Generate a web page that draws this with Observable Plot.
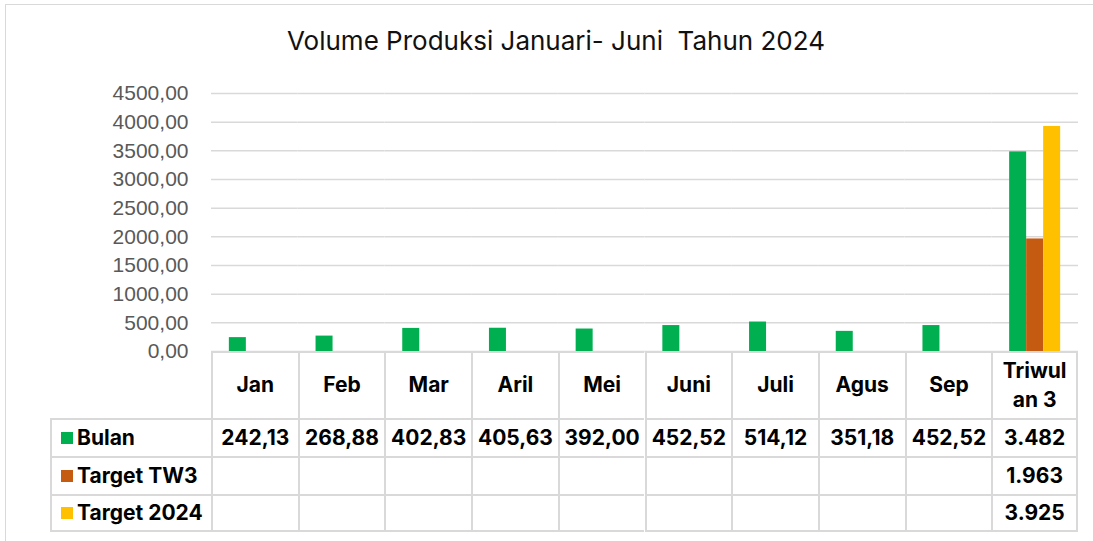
<!DOCTYPE html>
<html>
<head>
<meta charset="utf-8">
<script src="https://cdn.jsdelivr.net/npm/d3@7"></script>
<script src="https://cdn.jsdelivr.net/npm/@observablehq/plot@0.6"></script>
<style>
  body { margin: 0; background: #fff; }
  #wrap { position: relative; width: 1093px; height: 541px; overflow: hidden; background: #fff; }
  #frame { position: absolute; left: 5px; top: 4px; width: 1200px; height: 600px; border: 1.5px solid #d9d9d9; box-sizing: border-box; }
  #title { position: absolute; left: 0; width: 1112px; top: 25px; text-align: center; font-family: Inter, "Noto Sans", sans-serif; font-size: 26px; color: #111; white-space: pre; }
  #plot { position: absolute; left: 0; top: 0; }
  .cell { position: absolute; box-sizing: border-box; font-family: Inter, "Noto Sans", sans-serif; font-weight: 700; font-size: 21px; color: #000; display: flex; align-items: center; justify-content: center; text-align: center; line-height: 1.38; }
  .key { justify-content: flex-start; padding-left: 9px; }
  .sw { display: inline-block; width: 12px; height: 12px; margin-right: 4px; }
</style>
</head>
<body>
<div id="wrap">
  <div id="frame"></div>
  <div id="title"></div>
  <div id="plot"></div>
  <div id="table"></div>
</div>
<script>
const titleText = "Volume Produksi Januari- Juni  Tahun 2024";
const categories = ["Jan", "Feb", "Mar", "Aril", "Mei", "Juni", "Juli", "Agus", "Sep", "Triwulan 3"];
const headerLabels = ["Jan", "Feb", "Mar", "Aril", "Mei", "Juni", "Juli", "Agus", "Sep", "Triwul\nan 3"];
const seriesNames = ["Bulan", "Target TW3", "Target 2024"];
const seriesColors = ["#00B050", "#C55A11", "#FFC000"];
const bulan = [242.13, 268.88, 402.83, 405.63, 392.00, 452.52, 514.12, 351.18, 452.52, 3482];
const targetTW3 = [null, null, null, null, null, null, null, null, null, 1963];
const target2024 = [null, null, null, null, null, null, null, null, null, 3925];
const tableBulan = ["242,13", "268,88", "402,83", "405,63", "392,00", "452,52", "514,12", "351,18", "452,52", "3.482"];
const tableTW3 = ["", "", "", "", "", "", "", "", "", "1.963"];
const table2024 = ["", "", "", "", "", "", "", "", "", "3.925"];
const yTicks = [0, 500, 1000, 1500, 2000, 2500, 3000, 3500, 4000, 4500];

document.getElementById("title").textContent = titleText;

const seriesValues = [bulan, targetTW3, target2024];
const data = [];
categories.forEach((c, i) => {
  seriesNames.forEach((s, j) => {
    const v = seriesValues[j][i];
    if (v != null) data.push({category: c, series: s, value: v});
  });
});

const W = 1093, H = 360;
const mL = 211, mR = 15, mT = 93, mB = 9;

const chart = Plot.plot({
  width: W, height: H,
  marginLeft: mL, marginRight: mR, marginTop: mT, marginBottom: mB,
  style: {fontFamily: '"Liberation Sans", Arial, sans-serif', background: "transparent", overflow: "visible"},
  fx: {domain: categories, padding: 0, round: false, axis: null, label: null},
  x: {domain: seriesNames, paddingInner: 0, paddingOuter: 1.05, round: false, axis: null, label: null},
  y: {domain: [0, 4500], axis: null, label: null},
  color: {domain: seriesNames, range: seriesColors},
  marks: [
    Plot.ruleY(yTicks, {y: d => d, stroke: "#d9d9d9", strokeWidth: 1.5}),
    Plot.axisY({ticks: yTicks, tickSize: 0, tickPadding: 23, fontSize: 21, fill: "#595959", label: null,
      style: {letterSpacing: "1.3px"},
      tickFormat: d => d.toFixed(2).replace(".", ",")}),
    Plot.barY(data, {fx: "category", x: "series", y: "value", fill: "series"})
  ]
});
document.getElementById("plot").appendChild(chart);

// data table
const tbl = document.getElementById("table");
const colW = (W - mL - mR) / categories.length;
const topY = H - mB;            // 351
const headerH = 67, rowH = 38;
const keyLeft = 50;
const border = "2px solid #d9d9d9";
function cell(x, y, w, h, html, cls) {
  const d = document.createElement("div");
  d.className = "cell" + (cls ? " " + cls : "");
  d.style.left = x + "px"; d.style.top = y + "px";
  d.style.width = w + "px"; d.style.height = h + "px";
  d.style.borderLeft = border; d.style.borderTop = border;
  d.innerHTML = html;
  tbl.appendChild(d);
  return d;
}
headerLabels.forEach((lab, i) => {
  const d = cell(mL + i * colW, topY, colW, headerH, "");
  d.style.whiteSpace = "pre";
  d.textContent = lab;
  if (i === categories.length - 1) d.style.borderRight = border;
});
const rows = [tableBulan, tableTW3, table2024];
rows.forEach((r, j) => {
  const y = topY + headerH + j * rowH;
  const k = cell(keyLeft, y, mL - keyLeft, rowH, `<span class="sw" style="background:${seriesColors[j]}"></span>${seriesNames[j]}`, "key");
  if (j === rows.length - 1) k.style.borderBottom = border;
  r.forEach((v, i) => {
    const d = cell(mL + i * colW, y, colW, rowH, v);
    if (i === categories.length - 1) d.style.borderRight = border;
    if (j === rows.length - 1) d.style.borderBottom = border;
  });
});
</script>
</body>
</html>
